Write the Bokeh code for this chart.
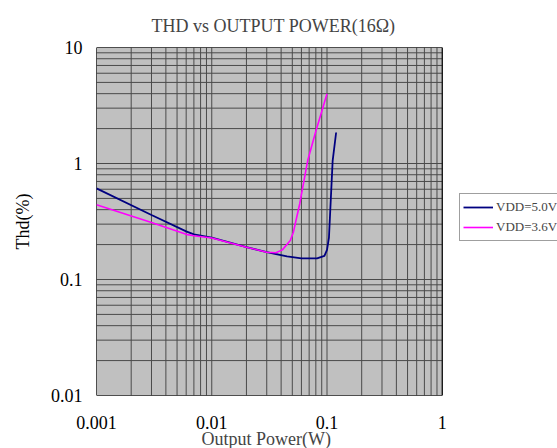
from bokeh.plotting import figure
from bokeh.models import FixedTicker, Legend, LegendItem, Title
from bokeh.embed import file_html
from bokeh.resources import INLINE

# ---- data ----
x_ticks = [0.001, 0.01, 0.1, 1]
x_tick_labels = ["0.001", "0.01", "0.1", "1"]
y_ticks = [0.01, 0.1, 1, 10]
y_tick_labels = ["0.01", "0.1", "1", "10"]

p50_x = [0.001, 0.003, 0.006, 0.007, 0.01, 0.02, 0.03, 0.045, 0.06, 0.082, 0.095, 0.1, 0.104, 0.112, 0.12]
p50_y = [0.61, 0.36, 0.26, 0.245, 0.23, 0.19, 0.172, 0.158, 0.152, 0.152, 0.16, 0.18, 0.23, 1.06, 1.85]

p36_x = [0.001, 0.003, 0.006, 0.007, 0.01, 0.02, 0.03, 0.036, 0.041, 0.048, 0.051, 0.058, 0.068, 0.08, 0.1]
p36_y = [0.44, 0.31, 0.245, 0.238, 0.228, 0.19, 0.172, 0.17, 0.18, 0.217, 0.254, 0.45, 1.06, 1.9, 4.0]

series_names = ["VDD=5.0V", "VDD=3.6V"]
series_colors = ["#000080", "#ff00ff"]

FONT = "Liberation Serif"

def minor(ticks):
    out = []
    for d in ticks[:-1]:
        for k in range(2, 10):
            out.append(k * d)
    return out

x_min, x_max = x_ticks[0], x_ticks[-1]
y_min, y_max = y_ticks[0], y_ticks[-1]

# frame extends one extra decade to the right so that the legend (outside the
# grey plot area) can be drawn inside the canvas
p = figure(width=557, height=448, x_axis_type="log", y_axis_type="log",
           x_range=(x_min, x_max * 10), y_range=(y_min, y_max),
           output_backend="svg", toolbar_location=None,
           min_border_left=96, min_border_right=0, min_border_top=47, min_border_bottom=53,
           title="THD vs OUTPUT POWER(16Ω)")

p.title.align = "left"
p.title.offset = 55
p.title.text_font = FONT
p.title.text_font_size = "18px"
p.title.text_font_style = "normal"
p.title.vertical_align = "middle"
p.title.standoff = 21

p.background_fill_color = "white"
p.border_fill_color = "white"
p.outline_line_color = None
p.xgrid.visible = False
p.ygrid.visible = False

p.xaxis.ticker = FixedTicker(ticks=x_ticks, minor_ticks=[])
p.yaxis.ticker = FixedTicker(ticks=y_ticks, minor_ticks=[])
p.xaxis.major_label_overrides = {t: l for t, l in zip(x_ticks, x_tick_labels)}
p.yaxis.major_label_overrides = {t: l for t, l in zip(y_ticks, y_tick_labels)}

for ax in (p.xaxis, p.yaxis):
    ax.axis_line_color = None
    ax.major_tick_line_color = None
    ax.minor_tick_line_color = None
    ax.major_tick_out = 0
    ax.major_tick_in = 0
    ax.minor_tick_out = 0
    ax.minor_tick_in = 0
    ax.major_label_text_font = FONT
    ax.major_label_text_font_size = "18px"
    ax.major_label_text_color = "black"
    ax.axis_label_text_font = FONT
    ax.axis_label_text_font_size = "18px"
    ax.axis_label_text_font_style = "normal"
    ax.axis_label_text_color = "black"

p.xaxis.major_label_standoff = 20
p.yaxis.major_label_standoff = 14
p.yaxis.axis_label = "Thd(%)"
p.yaxis.axis_label_standoff = 15

# x-axis title, centred under the grey plot area
xlabel = Title(text="Output Power(W)", align="left", offset=105,
               text_font=FONT, text_font_size="18px", text_font_style="normal",
               standoff=-10)
p.add_layout(xlabel, "below")

# grey plot area
p.quad(left=[x_min], right=[x_max], bottom=[y_min], top=[y_max],
       fill_color="#c0c0c0", line_color=None)

# grid lines (major + minor) inside the plot area
gx = x_ticks + minor(x_ticks)
gy = y_ticks + minor(y_ticks)
p.multi_line(xs=[[v, v] for v in gx], ys=[[y_min, y_max] for _ in gx],
             line_color="#4a4a4a", line_width=1)
p.multi_line(xs=[[x_min, x_max] for _ in gy], ys=[[v, v] for v in gy],
             line_color="#4a4a4a", line_width=1)

# plot area border
p.quad(left=[x_min], right=[x_max], bottom=[y_min], top=[y_max],
       fill_color=None, line_color="black", line_width=1)

r50 = p.line(p50_x, p50_y, line_color=series_colors[0], line_width=1.8)
r36 = p.line(p36_x, p36_y, line_color=series_colors[1], line_width=1.6)

legend = Legend(items=[LegendItem(label=series_names[0], renderers=[r50]),
                       LegendItem(label=series_names[1], renderers=[r36])],
                location=(363, 154))
legend.label_text_font = FONT
legend.label_text_font_size = "13px"
legend.label_height = 20
legend.glyph_width = 30
legend.glyph_height = 20
legend.label_standoff = 3
legend.padding = 3
legend.spacing = 0
legend.margin = 0
legend.border_line_color = "#404040"
legend.border_line_width = 1
legend.background_fill_color = "white"
legend.background_fill_alpha = 1
p.add_layout(legend, "center")

open("out.html", "w").write(file_html(p, INLINE))
